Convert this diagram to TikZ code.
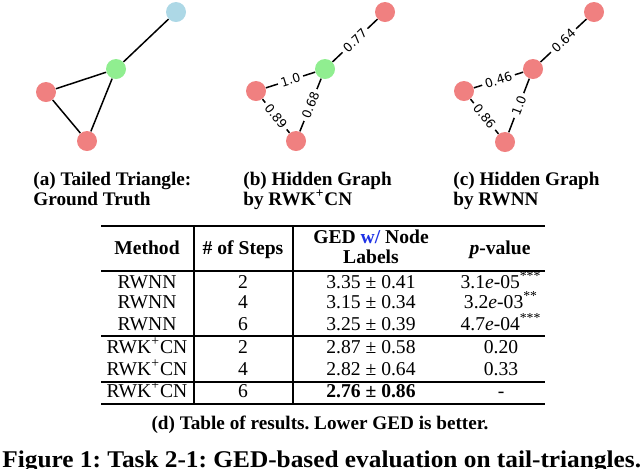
\documentclass[tikz,border=0pt]{standalone}
\usepackage{graphicx}
\usepackage{fontspec}
\setmainfont{Liberation Serif}
\newfontfamily\lblfont{DejaVu Sans}
\frenchspacing
\definecolor{nred}{HTML}{F08080}
\definecolor{ngreen}{HTML}{90EE90}
\definecolor{nblue}{HTML}{ADD8E6}
\definecolor{linkblue}{RGB}{30,50,230}
\tikzset{
  gnode/.style={circle, minimum size=10pt, inner sep=0pt, draw=none},
  gedge/.style={line width=0.75pt, black},
  elbl/.style={midway, sloped, fill=white, inner xsep=1.6pt, inner ysep=1pt, font=\lblfont\fontsize{6.2}{7}\selectfont},
  subcap/.style={anchor=base west, inner sep=0pt, font=\bfseries\fontsize{9.6}{11}\selectfont},
  tab/.style={anchor=base, inner sep=0pt, font=\fontsize{9.8}{12}\selectfont},
  tabh/.style={anchor=base, inner sep=0pt, font=\bfseries\fontsize{9.8}{12}\selectfont},
  thickrule/.style={line width=0.8pt},
  thinrule/.style={line width=0.55pt},
}
\begin{document}
\begin{tikzpicture}[x=0.5pt,y=-0.5pt]
\useasboundingbox (0,0) rectangle (640,468);
\clip (0,0) rectangle (640,468);

% ---- (a) ground truth
\node[gnode, fill=nblue]  (a1) at (176,12) {};
\node[gnode, fill=ngreen] (a2) at (116,69) {};
\node[gnode, fill=nred]   (a3) at (46,92) {};
\node[gnode, fill=nred]   (a4) at (87,141) {};
\draw[gedge] (a1) -- (a2);
\draw[gedge] (a2) -- (a3);
\draw[gedge] (a2) -- (a4);
\draw[gedge] (a3) -- (a4);

% ---- (b) RWK+CN
\node[gnode, fill=nred]   (b1) at (385,12) {};
\node[gnode, fill=ngreen] (b2) at (325,69) {};
\node[gnode, fill=nred]   (b3) at (256,91) {};
\node[gnode, fill=nred]   (b4) at (296,141) {};
\draw[gedge] (b2) -- node[elbl] (lb1) {0.77} (b1);
\draw[gedge] (b3) -- node[elbl] (lb2) {1.0} (b2);
\draw[gedge] (b4) -- node[elbl] (lb3) {0.68} (b2);
\draw[gedge] (b3) -- node[elbl] (lb4) {0.89} (b4);

% ---- (c) RWNN
\node[gnode, fill=nred] (c1) at (594,12) {};
\node[gnode, fill=nred] (c2) at (533,69) {};
\node[gnode, fill=nred] (c3) at (464,91) {};
\node[gnode, fill=nred] (c4) at (505,142) {};
\draw[gedge] (c2) -- node[elbl] (lc1) {0.64} (c1);
\draw[gedge] (c3) -- node[elbl] (lc2) {0.46} (c2);
\draw[gedge] (c4) -- node[elbl] (lc3) {1.0} (c2);
\draw[gedge] (c3) -- node[elbl] (lc4) {0.86} (c4);

% ---- subcaptions
\node[subcap] (capa1) at (33,185) {(a) Tailed Triangle:};
\node[subcap] (capa2) at (33,205) {Ground Truth};
\node[subcap] (capb1) at (243,185) {(b) Hidden Graph};
\node[subcap] (capb2) at (243,205) {by RWK\textsuperscript{+}CN};
\node[subcap] (capc1) at (453,185) {(c) Hidden Graph};
\node[subcap] (capc2) at (453,205) {by RWNN};

% ---- table rules
\draw[thickrule] (101,226) -- (545,226);
\draw[thinrule] (101,271) -- (545,271);
\draw[thinrule] (101,336) -- (545,336);
\draw[thinrule] (101,382) -- (545,382);
\draw[thickrule] (101,404) -- (545,404);
\draw[thinrule] (194,226) -- (194,404);
\draw[thinrule] (293,226) -- (293,404);

% ---- header
\node[tabh] (h1) at (147,254) {Method};
\node[tabh] (h2) at (243,254) {\# of Steps};
\node[tabh] (h3a) at (371,243) {GED \textcolor{linkblue}{w/} Node};
\node[tabh] (h3b) at (371,263) {Labels};
\node[tabh] (h4) at (500,254) {\textit{p}-value};

% ---- rows
\node[tab] (r1c1) at (147,288) {RWNN};
\node[tab] (r1c2) at (243,288) {2};
\node[tab] (r1c3) at (371,288) {3.35 ± 0.41};
\node[tab] (r1c4) at (501,288) {3.1\textit{e}-05\textsuperscript{***}};

\node[tab] (r2c1) at (147,308) {RWNN};
\node[tab] (r2c2) at (243,308) {4};
\node[tab] (r2c3) at (371,308) {3.15 ± 0.34};
\node[tab] (r2c4) at (501,308) {3.2\textit{e}-03\textsuperscript{**}};

\node[tab] (r3c1) at (147,330) {RWNN};
\node[tab] (r3c2) at (243,330) {6};
\node[tab] (r3c3) at (371,330) {3.25 ± 0.39};
\node[tab] (r3c4) at (501,330) {4.7\textit{e}-04\textsuperscript{***}};

\node[tab] (r4c1) at (147,353) {RWK\textsuperscript{+}CN};
\node[tab] (r4c2) at (243,353) {2};
\node[tab] (r4c3) at (371,353) {2.87 ± 0.58};
\node[tab] (r4c4) at (501,353) {0.20};

\node[tab] (r5c1) at (147,375) {RWK\textsuperscript{+}CN};
\node[tab] (r5c2) at (243,375) {4};
\node[tab] (r5c3) at (371,375) {2.82 ± 0.64};
\node[tab] (r5c4) at (501,375) {0.33};

\node[tab] (r6c1) at (147,397) {RWK\textsuperscript{+}CN};
\node[tab] (r6c2) at (243,397) {6};
\node[tabh] (r6c3) at (371,397) {2.76 ± 0.86};
\node[tab] (r6c4) at (501,397) {-};

% ---- captions
\node[anchor=base, inner sep=0pt, font=\bfseries\fontsize{9.6}{11}\selectfont] (capd) at (320,429) {(d) Table of results. Lower GED is better.};
\node[anchor=base west, inner sep=0pt, font=\bfseries\fontsize{12}{14}\selectfont] (figcap) at (2,467) {\scalebox{1.055}[1]{Figure 1: Task 2-1: GED-based evaluation on tail-triangles.}};
\end{tikzpicture}
\end{document}
